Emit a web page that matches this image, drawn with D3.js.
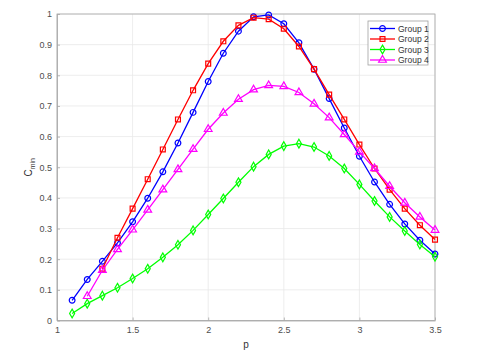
<!DOCTYPE html>
<html>
<head>
    <meta charset="utf-8">
    <script src="https://d3js.org/d3.v7.min.js"></script>
    <style>
        body { margin: 0; background: #fff; }
        svg { font-family: "Liberation Sans", Arial, sans-serif; }
        .tick text { fill: #4d4d4d; font-size: 9px; }
    </style>
</head>
<body>
    <div id="chart"></div>
    <script>
        const xValues = [1.1, 1.2, 1.3, 1.4, 1.5, 1.6, 1.7, 1.8, 1.9, 2.0, 2.1, 2.2, 2.3,
                         2.4, 2.5, 2.6, 2.7, 2.8, 2.9, 3.0, 3.1, 3.2, 3.3, 3.4, 3.5];
        const group1 = [0.066, 0.134, 0.193, 0.253, 0.322, 0.399, 0.485, 0.579, 0.679, 0.780, 0.872, 0.944, 0.991,
                        0.997, 0.968, 0.906, 0.820, 0.724, 0.628, 0.536, 0.452, 0.379, 0.315, 0.262, 0.217];
        const group2 = [null, null, 0.169, 0.270, 0.365, 0.461, 0.558, 0.656, 0.751, 0.838, 0.911, 0.963, 0.988,
                        0.983, 0.952, 0.894, 0.820, 0.737, 0.656, 0.574, 0.496, 0.427, 0.365, 0.311, 0.264];
        const group3 = [0.023, 0.055, 0.081, 0.107, 0.137, 0.169, 0.206, 0.247, 0.294, 0.346, 0.398, 0.451, 0.502,
                        0.542, 0.569, 0.577, 0.566, 0.537, 0.496, 0.444, 0.390, 0.338, 0.292, 0.248, 0.208];
        const group4 = [null, 0.079, 0.164, 0.232, 0.296, 0.361, 0.427, 0.493, 0.559, 0.624, 0.677, 0.722, 0.753,
                        0.767, 0.764, 0.744, 0.707, 0.662, 0.607, 0.550, 0.496, 0.438, 0.384, 0.338, 0.295];
        const seriesNames = ["Group 1", "Group 2", "Group 3", "Group 4"];
        const xTicks = [1, 1.5, 2, 2.5, 3, 3.5];
        const yTicks = [0, 0.1, 0.2, 0.3, 0.4, 0.5, 0.6, 0.7, 0.8, 0.9, 1];

        const width = 482, height = 356;
        const margin = {top: 14, right: 47, bottom: 35.5, left: 57};

        const series = [
            {name: seriesNames[0], values: group1, color: "#0000ff", marker: "circle"},
            {name: seriesNames[1], values: group2, color: "#ff0000", marker: "square"},
            {name: seriesNames[2], values: group3, color: "#00ff00", marker: "diamond"},
            {name: seriesNames[3], values: group4, color: "#ff00ff", marker: "triangle"}
        ];

        const xScale = d3.scaleLinear().domain([1, 3.5]).range([margin.left, width - margin.right]);
        const yScale = d3.scaleLinear().domain([0, 1]).range([height - margin.bottom, margin.top]);

        const svg = d3.select("#chart").append("svg")
            .attr("width", width)
            .attr("height", height);

        // grid
        svg.append("g").selectAll("line.gx")
            .data(xTicks)
            .enter().append("line")
            .attr("x1", d => xScale(d)).attr("x2", d => xScale(d))
            .attr("y1", yScale(0)).attr("y2", yScale(1))
            .attr("stroke", "#e8e8e8").attr("stroke-width", 0.8);
        svg.append("g").selectAll("line.gy")
            .data(yTicks)
            .enter().append("line")
            .attr("x1", xScale(1)).attr("x2", xScale(3.5))
            .attr("y1", d => yScale(d)).attr("y2", d => yScale(d))
            .attr("stroke", "#e8e8e8").attr("stroke-width", 0.8);

        // box
        svg.append("rect")
            .attr("x", xScale(1)).attr("y", yScale(1))
            .attr("width", xScale(3.5) - xScale(1))
            .attr("height", yScale(0) - yScale(1))
            .attr("fill", "none").attr("stroke", "#a6a6a6").attr("stroke-width", 0.8);

        const xAxis = svg.append("g")
            .attr("transform", "translate(0," + yScale(0) + ")")
            .call(d3.axisBottom(xScale).tickValues(xTicks).tickSizeInner(-3).tickSizeOuter(0).tickPadding(6).tickFormat(d3.format("")));
        const yAxis = svg.append("g")
            .attr("transform", "translate(" + xScale(1) + ",0)")
            .call(d3.axisLeft(yScale).tickValues(yTicks).tickSizeInner(-3).tickSizeOuter(0).tickPadding(5).tickFormat(d3.format("")));
        [xAxis, yAxis].forEach(a => {
            a.select(".domain").attr("stroke", "#a6a6a6").attr("stroke-width", 0.8);
            a.selectAll(".tick line").attr("stroke", "#a6a6a6").attr("stroke-width", 0.8);
        });

        // axis labels
        svg.append("text")
            .attr("x", (xScale(1) + xScale(3.5)) / 2)
            .attr("y", 348)
            .attr("text-anchor", "middle")
            .attr("font-size", 10)
            .attr("fill", "#333")
            .text("p");

        const yl = svg.append("text")
            .attr("transform", "translate(32," + ((yScale(0) + yScale(1)) / 2) + ") rotate(-90)")
            .attr("text-anchor", "middle")
            .attr("font-size", 10)
            .attr("fill", "#333");
        yl.append("tspan").text("C");
        yl.append("tspan").attr("font-size", 7).attr("dy", 3).text("min");

        const symbols = {
            circle: d3.symbol().type(d3.symbolCircle).size(26),
            square: d3.symbol().type(d3.symbolSquare).size(24),
            diamond: d3.symbol().type(d3.symbolDiamond).size(22),
            triangle: d3.symbol().type(d3.symbolTriangle).size(26)
        };

        const line = d3.line()
            .defined(d => d.y !== null)
            .x(d => xScale(d.x))
            .y(d => yScale(d.y));

        series.forEach(s => {
            const pts = xValues.map((x, i) => ({x: x, y: s.values[i]})).filter(d => d.y !== null);
            svg.append("path")
                .datum(pts)
                .attr("fill", "none")
                .attr("stroke", s.color)
                .attr("stroke-width", 1.3)
                .attr("d", line);
            svg.append("g").selectAll("path")
                .data(pts)
                .enter().append("path")
                .attr("d", symbols[s.marker])
                .attr("transform", d => "translate(" + xScale(d.x) + "," + yScale(d.y) + ")")
                .attr("fill", "none")
                .attr("stroke", s.color)
                .attr("stroke-width", 1.2);
        });

        // legend
        const lx = 368, ly = 21, lw = 60, lh = 44;
        svg.append("rect")
            .attr("x", lx).attr("y", ly).attr("width", lw).attr("height", lh)
            .attr("fill", "#fff").attr("stroke", "#a0a0a0").attr("stroke-width", 0.8);
        series.forEach((s, i) => {
            const yy = ly + 7.5 + i * 10.5;
            svg.append("line")
                .attr("x1", lx + 2).attr("x2", lx + 27)
                .attr("y1", yy).attr("y2", yy)
                .attr("stroke", s.color).attr("stroke-width", 1.3);
            svg.append("path")
                .attr("d", symbols[s.marker])
                .attr("transform", "translate(" + (lx + 14.5) + "," + yy + ")")
                .attr("fill", "none").attr("stroke", s.color).attr("stroke-width", 1.2);
            svg.append("text")
                .attr("x", lx + 30).attr("y", yy + 3)
                .attr("font-size", 8.5)
                .attr("fill", "#333")
                .text(s.name);
        });
    </script>
</body>
</html>
